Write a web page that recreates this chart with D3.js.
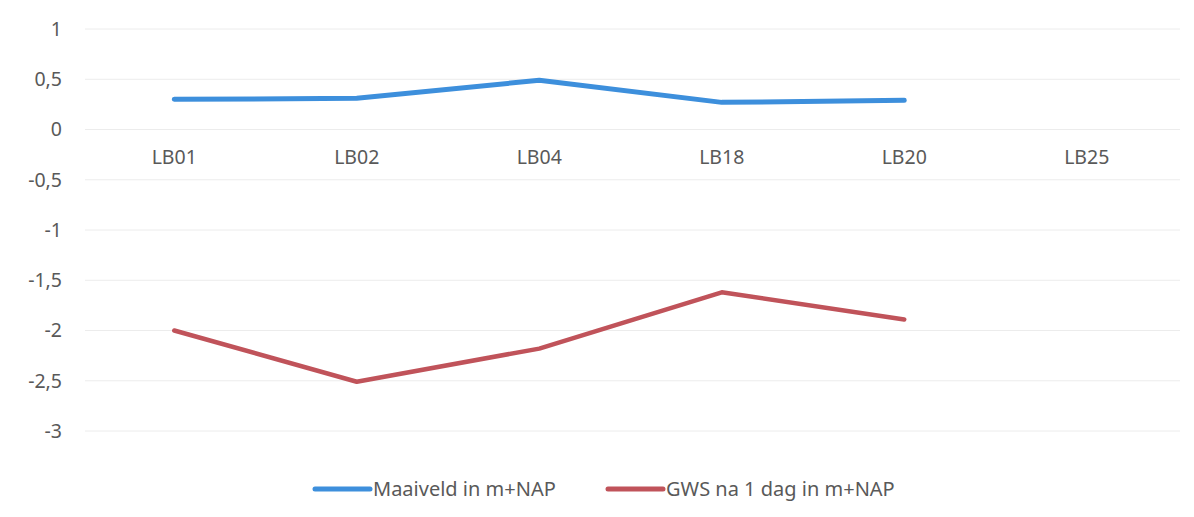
<!DOCTYPE html>
<html>
<head>
<meta charset="utf-8">
<script src="https://cdn.jsdelivr.net/npm/d3@7"></script>
<style>
  body { margin: 0; background: #fff; }
  svg text { font-family: "Noto Sans", "Open Sans", sans-serif; fill: #595959; }
</style>
</head>
<body>
<script>
const categories = ["LB01", "LB02", "LB04", "LB18", "LB20", "LB25"];
const maaiveld = [0.30, 0.31, 0.49, 0.27, 0.29, null];
const gws = [-2.00, -2.51, -2.18, -1.62, -1.89, null];
const yTicks = [1, 0.5, 0, -0.5, -1, -1.5, -2, -2.5, -3];
const seriesNames = ["Maaiveld in m+NAP", "GWS na 1 dag in m+NAP"];

const w = 1194;
const h = 517;

const svg = d3.select('body')
  .append('svg')
  .attr('width', w)
  .attr('height', h)

const xScale = d3.scaleBand()
  .domain(categories)
  .range([83, 1178])

const yScale = d3.scaleLinear()
  .domain([-3, 1])
  .range([431, 29])

const colors = d3.scaleOrdinal()
  .domain(seriesNames)
  .range(["#3d8fdc", "#c0535a"])

// gridlines
svg.append('g')
  .selectAll('line')
  .data(yTicks)
  .enter().append('line')
  .attr('x1', 85)
  .attr('x2', 1180)
  .attr('y1', d => yScale(d))
  .attr('y2', d => yScale(d))
  .attr('stroke', '#ececec')
  .attr('stroke-width', 1)

// y axis labels
const yAxis = d3.axisLeft(yScale)
  .tickValues(yTicks)
  .tickSize(0)
  .tickPadding(0)
  .tickFormat(d => String(d).replace('.', ','))

svg.append('g')
  .attr('transform', 'translate(62,0)')
  .call(yAxis)
  .call(g => g.select('.domain').remove())
  .selectAll('text')
  .style('font-size', '19.5px')
  .attr('fill', '#595959')

// category labels at the zero line
const xAxis = d3.axisBottom(xScale).tickSize(0).tickPadding(21)

svg.append('g')
  .attr('transform', 'translate(0,' + yScale(0) + ')')
  .call(xAxis)
  .call(g => g.select('.domain').remove())
  .selectAll('text')
  .style('font-size', '19.5px')
  .attr('fill', '#595959')

const cx = d => xScale(d) + xScale.bandwidth() / 2

const line = d3.line()
  .defined(d => d.v != null)
  .x(d => cx(d.c))
  .y(d => yScale(d.v))

const series = [maaiveld, gws].map((vals, i) => ({
  name: seriesNames[i],
  pts: categories.map((c, j) => ({c: c, v: vals[j]}))
}))

svg.selectAll('.series')
  .data(series)
  .enter().append('path')
  .attr('class', 'series')
  .attr('d', d => line(d.pts))
  .attr('fill', 'none')
  .attr('stroke', d => colors(d.name))
  .attr('stroke-width', (d, i) => i == 0 ? 5 : 4.5)
  .attr('stroke-linejoin', 'round')
  .attr('stroke-linecap', 'round')

// legend
const legendX = [315, 608];
const legend = svg.selectAll('.legend')
  .data(seriesNames)
  .enter().append('g')
  .attr('class', 'legend')
  .attr('transform', (d, i) => 'translate(' + legendX[i] + ',489)')

legend.append('line')
  .attr('x1', 0)
  .attr('x2', 55)
  .attr('stroke', d => colors(d))
  .attr('stroke-width', 5)
  .attr('stroke-linecap', 'round')

legend.append('text')
  .attr('x', 58)
  .attr('dy', '0.35em')
  .style('font-size', '20px')
  .text(d => d)
</script>
</body>
</html>
